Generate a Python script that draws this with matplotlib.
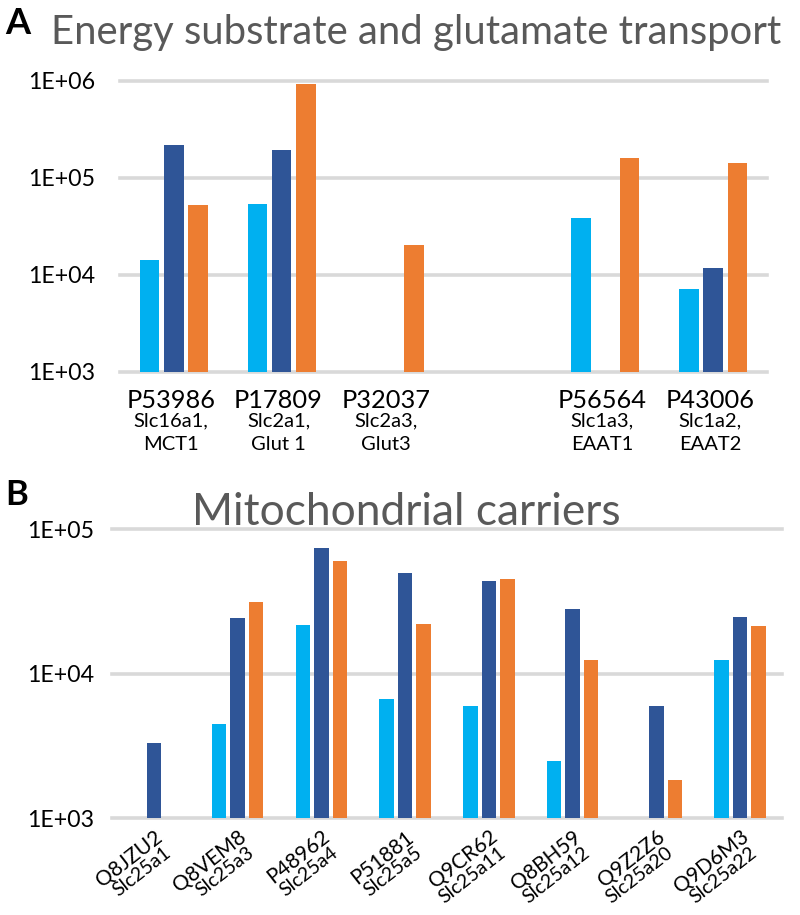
import numpy as np
import matplotlib
matplotlib.use("Agg")
import matplotlib.pyplot as plt
import matplotlib.transforms as mtransforms
from matplotlib.ticker import FixedLocator, FuncFormatter

plt.rcParams['font.family'] = ['Lato', 'DejaVu Sans']

# ---------------- Data ----------------
nan = np.nan
# Panel A: energy substrate and glutamate transport
a_ids = ["P53986", "P17809", "P32037", "", "P56564", "P43006"]
a_genes = ["Slc16a1,\nMCT1", "Slc2a1,\nGlut 1", "Slc2a3,\nGlut3", "", "Slc1a3,\nEAAT1", "Slc1a2,\nEAAT2"]
a_light = [14200, 53500, nan, nan, 38100, 7070]
a_dark = [217000, 193000, nan, nan, nan, 11800]
a_orange = [52000, 925000, 20200, nan, 158500, 142000]
a_yticks = [1e3, 1e4, 1e5, 1e6]

# Panel B: mitochondrial carriers
b_ids = ["Q8JZU2", "Q8VEM8", "P48962", "P51881", "Q9CR62", "Q8BH59", "Q9Z2Z6", "Q9D6M3"]
b_genes = ["Slc25a1", "Slc25a3", "Slc25a4", "Slc25a5", "Slc25a11", "Slc25a12", "Slc25a20", "Slc25a22"]
b_light = [nan, 4500, 21900, 6730, 5980, 2490, nan, 12400]
b_dark = [3340, 24400, 73900, 49600, 44100, 28100, 6020, 24800]
b_orange = [nan, 31300, 60400, 22000, 45500, 12400, 1840, 21400]
b_yticks = [1e3, 1e4, 1e5]

C_LIGHT = "#00B0F0"
C_DARK = "#2F5597"
C_ORANGE = "#ED7D31"
GRID = "#D9D9D9"
TITLE = "#595959"

W, H = 800, 915
fig = plt.figure(figsize=(W / 100, H / 100), dpi=100)
renderer = fig.canvas.get_renderer()


def fit(text, target_px, **kw):
    """font size (pt) that gives the text the wanted width in pixels"""
    t = fig.text(0, 0, text, fontsize=20, **kw)
    w = t.get_window_extent(renderer).width
    t.remove()
    return 20 * target_px / w


def px(x, y):
    return mtransforms.ScaledTranslation(x / 100, -y / 100, fig.dpi_scale_trans)


def fmt(v, pos):
    return "1E+%02d" % int(round(np.log10(v)))


TICK_FS = fit("1E+06", 67)


def setup(ax, n, yticks, pad):
    ax.set_yscale('log')
    ax.set_ylim(yticks[0], yticks[-1])
    ax.set_xlim(-0.5, n - 0.5)
    ax.yaxis.set_major_locator(FixedLocator(yticks))
    ax.yaxis.set_major_formatter(FuncFormatter(fmt))
    ax.yaxis.set_minor_locator(FixedLocator([]))
    ax.set_xticks([])
    for s in ax.spines.values():
        s.set_visible(False)
    ax.tick_params(axis='y', length=0, pad=pad, labelsize=TICK_FS, labelcolor='black')
    ax.set_axisbelow(True)
    ax.yaxis.grid(True, color=GRID, linewidth=2.6)
    for gl in ax.get_ygridlines():
        gl.set_clip_on(False)


def bars(ax, light, dark, orange, off, width):
    x = np.arange(len(dark))
    ax.bar(x - off, light, width, color=C_LIGHT, zorder=3)
    ax.bar(x, dark, width, color=C_DARK, zorder=3)
    ax.bar(x + off, orange, width, color=C_ORANGE, zorder=3)


# ---------------- Panel A ----------------
axA = fig.add_axes([120 / W, 1 - 371.7 / H, 647 / W, (371.7 - 80.7) / H])
setup(axA, len(a_ids), a_yticks, 18)
bars(axA, a_light, a_dark, a_orange, 0.225, 0.18)

A_BIG = fit("P53986", 89)
A_SMALL = fit("Slc16a1,", 75)
transA = mtransforms.blended_transform_factory(axA.transData, axA.transAxes)
for i, (pid, gene) in enumerate(zip(a_ids, a_genes)):
    axA.text(i - 0.03, 0, pid, transform=transA + px(0, 36.5), ha='center', va='baseline',
             fontsize=A_BIG, color='black')
    for k, line in enumerate(gene.split("\n")):
        axA.text(i - 0.03, 0, line, transform=transA + px(0, 54.5 + 24 * k), ha='center',
                 va='baseline', fontsize=A_SMALL, color='black')

# ---------------- Panel B ----------------
axB = fig.add_axes([112 / W, 1 - 818.3 / H, 670 / W, (818.3 - 529.3) / H])
setup(axB, len(b_ids), b_yticks, 13)
bars(axB, b_light, b_dark, b_orange, 0.22, 0.172)

B_BIG = fit("Q8JZU2", 78)
B_SMALL = fit("Slc25a1", 68)
ang = 38
for i, (pid, gene) in enumerate(zip(b_ids, b_genes)):
    # category position on the x axis, in display pixels
    xd, yd = axB.transData.transform((i, b_yticks[0]))
    fig.text((xd + 10) / W, (yd - 21) / H, pid, ha='right', va='baseline',
             rotation=ang, rotation_mode='anchor', fontsize=B_BIG, color='black')
    fig.text((xd + 18) / W, (yd - 37) / H, gene, ha='right', va='baseline',
             rotation=ang, rotation_mode='anchor', fontsize=B_SMALL, color='black')

# ---------------- Titles and panel letters ----------------
fig.text(51 / W, 1 - 44 / H, "Energy substrate and glutamate transport", ha='left',
         va='baseline', fontsize=fit("Energy substrate and glutamate transport", 731),
         color=TITLE)
fig.text(5 / W, 1 - 34 / H, "A", ha='left', va='baseline', fontsize=26,
         fontweight='bold', color='black')
fig.text(192 / W, 1 - 525 / H, "Mitochondrial carriers", ha='left', va='baseline',
         fontsize=fit("Mitochondrial carriers", 430), color=TITLE, zorder=5)
fig.text(5 / W, 1 - 505 / H, "B", ha='left', va='baseline', fontsize=25,
         fontweight='bold', color='black')

fig.savefig("out.png", dpi=100, facecolor='white')
